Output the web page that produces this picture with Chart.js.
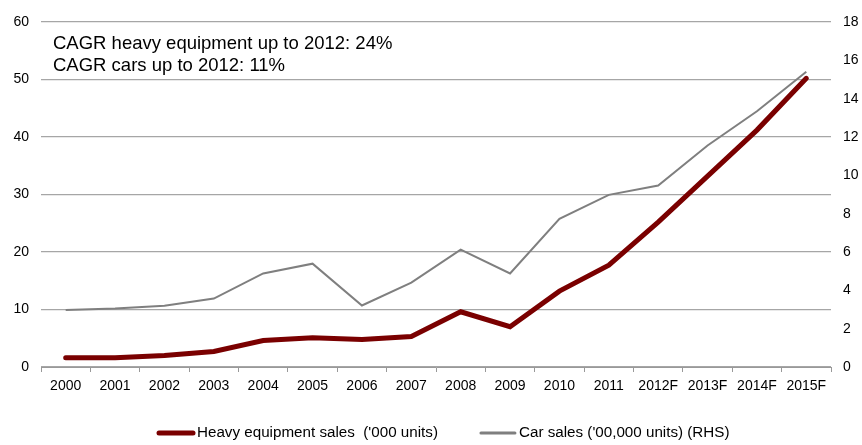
<!DOCTYPE html>
<html lang="en">
<head>
<meta charset="utf-8">
<title>Heavy equipment vs car sales</title>
<script src="https://cdn.jsdelivr.net/npm/chart.js"></script>
<style>
  body { margin: 0; background: #fff; }
  #wrap { width: 862px; height: 445px; position: relative; }
</style>
</head>
<body>
<div id="wrap"><canvas id="myChart"></canvas></div>
<script>
// data
const years = ['2000','2001','2002','2003','2004','2005','2006','2007','2008','2009','2010','2011','2012F','2013F','2014F','2015F'];
const heavyEquip = [1.6, 1.6, 2.0, 2.7, 4.6, 5.1, 4.8, 5.3, 9.6, 7.0, 13.2, 17.7, 25.2, 33.2, 41.2, 50.2];
const carSales = [2.97, 3.05, 3.19, 3.57, 4.88, 5.39, 3.21, 4.4, 6.12, 4.88, 7.73, 8.98, 9.47, 11.56, 13.34, 15.4];
const notes = ['CAGR heavy equipment up to 2012: 24%', 'CAGR cars up to 2012: 11%'];

const fontName = "'Liberation Sans', Arial, sans-serif";

// CAGR notes in the top left corner + a legend with wider gaps than chart.js allows
const notePlugin = {
    id: 'notes',
    afterDraw(chart) {
        const ctx = chart.ctx;
        ctx.save();
        ctx.fillStyle = '#000';
        ctx.font = '18.5px ' + fontName;
        ctx.textBaseline = 'middle';
        for (let i = 0; i < notes.length; i++) {
            ctx.fillText(notes[i], 53, 44 + i * 22);
        }

        ctx.font = '15.2px ' + fontName;
        let x = 157;
        const y = 433;
        chart.data.datasets.forEach((ds) => {
            ctx.beginPath();
            ctx.strokeStyle = ds.borderColor;
            ctx.lineWidth = ds.borderWidth === 5 ? 5 : 3;
            ctx.lineCap = 'round';
            ctx.moveTo(x + 2, y);
            ctx.lineTo(x + 36, y);
            ctx.stroke();
            ctx.fillStyle = '#000';
            ctx.fillText(ds.label, x + 40, y);
            x += 40 + ctx.measureText(ds.label).width + 41;
        });
        ctx.restore();
    }
};

const ctx = document.getElementById('myChart').getContext('2d');
const myChart = new Chart(ctx, {
    type: 'line',
    data: {
        labels: years,
        datasets: [{
            label: "Heavy equipment sales  ('000 units)",
            data: heavyEquip,
            borderColor: '#7a0000',
            backgroundColor: '#7a0000',
            borderWidth: 5,
            pointRadius: 0,
            borderCapStyle: 'round',
            yAxisID: 'y',
            order: 1
        }, {
            label: "Car sales ('00,000 units) (RHS)",
            data: carSales,
            borderColor: '#7f7f7f',
            backgroundColor: '#7f7f7f',
            borderWidth: 2,
            pointRadius: 0,
            yAxisID: 'y1',
            order: 2
        }]
    },
    options: {
        responsive: true,
        maintainAspectRatio: false,
        animation: false,
        layout: { padding: { top: 22, right: 0, left: 0, bottom: 44 } },
        scales: {
            x: {
                offset: true,
                grid: { offset: true, drawOnChartArea: false, drawTicks: true, tickLength: 5, color: '#999', lineWidth: 1 },
                border: { color: '#999', width: 1 },
                ticks: { color: '#000', font: { family: fontName, size: 14 }, padding: 6, maxRotation: 0, autoSkip: false },
                afterFit(scale) { scale.height = 34; }
            },
            y: {
                position: 'left',
                min: 0, max: 60,
                ticks: { stepSize: 10, color: '#000', font: { family: fontName, size: 14 }, padding: 12 },
                grid: { color: '#a6a6a6', lineWidth: 1.3, drawTicks: false },
                border: { display: false },
                afterFit(scale) { scale.width = 41; }
            },
            y1: {
                position: 'right',
                min: 0, max: 18,
                ticks: { stepSize: 2, color: '#000', font: { family: fontName, size: 14 }, padding: 12 },
                grid: { drawOnChartArea: false, drawTicks: false },
                border: { display: false },
                afterFit(scale) { scale.width = 31; }
            }
        },
        plugins: {
            legend: { display: false },
            tooltip: { enabled: false }
        }
    },
    plugins: [notePlugin]
});
</script>
</body>
</html>
